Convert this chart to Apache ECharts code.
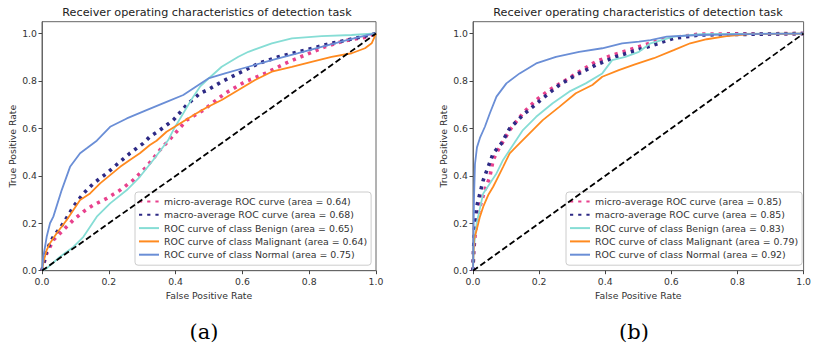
<!DOCTYPE html>
<html>
<head>
<meta charset="utf-8">
<script src="https://cdn.jsdelivr.net/npm/echarts@6/dist/echarts.min.js"></script>
<style>html,body{margin:0;padding:0;background:#fff}#c{width:814px;height:347px}</style>
</head>
<body>
<div id="c"></div>
<script>
// ---------- data ----------
const tickValues = [0, 0.2, 0.4, 0.6, 0.8, 1.0];
const diagonal = [[0, 0], [1, 1]];

// (a)
const aNames = ['micro-average ROC curve (area = 0.64)', 'macro-average ROC curve (area = 0.68)',
  'ROC curve of class Benign (area = 0.65)', 'ROC curve of class Malignant (area = 0.64)',
  'ROC curve of class Normal (area = 0.75)'];
const aMicro = [[0,0],[0.014,0.073],[0.034,0.129],[0.064,0.172],[0.094,0.214],[0.124,0.249],[0.154,0.277],[0.194,0.305],[0.234,0.34],[0.273,0.382],[0.313,0.438],[0.353,0.509],[0.393,0.57],[0.433,0.635],[0.483,0.677],[0.548,0.748],[0.608,0.797],[0.668,0.832],[0.728,0.874],[0.787,0.909],[0.847,0.944],[0.907,0.97],[0.967,0.984],[1,1]];
const aMacro = [[0,0],[0.014,0.087],[0.034,0.143],[0.064,0.2],[0.094,0.27],[0.124,0.326],[0.154,0.368],[0.194,0.411],[0.234,0.46],[0.263,0.495],[0.303,0.537],[0.323,0.565],[0.353,0.593],[0.393,0.635],[0.433,0.699],[0.473,0.748],[0.498,0.764],[0.538,0.797],[0.588,0.832],[0.648,0.874],[0.708,0.902],[0.787,0.93],[0.867,0.959],[0.937,0.98],[1,1]];
const aBenign = [[0,0],[0.014,0.01],[0.054,0.059],[0.094,0.10],[0.124,0.143],[0.164,0.228],[0.204,0.284],[0.254,0.34],[0.293,0.396],[0.333,0.467],[0.363,0.523],[0.378,0.551],[0.393,0.593],[0.423,0.664],[0.453,0.734],[0.473,0.776],[0.493,0.803],[0.538,0.86],[0.588,0.902],[0.618,0.923],[0.688,0.959],[0.748,0.98],[0.837,0.989],[0.927,0.994],[0.987,1.0],[1,1]];
const aMalignant = [[0,0],[0.005,0.04],[0.014,0.087],[0.024,0.116],[0.044,0.158],[0.074,0.214],[0.094,0.256],[0.114,0.298],[0.144,0.326],[0.174,0.368],[0.204,0.403],[0.234,0.438],[0.263,0.467],[0.293,0.495],[0.323,0.53],[0.343,0.548],[0.373,0.586],[0.413,0.621],[0.463,0.664],[0.493,0.688],[0.538,0.72],[0.588,0.762],[0.638,0.804],[0.688,0.839],[0.748,0.86],[0.807,0.881],[0.867,0.902],[0.927,0.917],[0.967,0.938],[0.987,0.959],[0.997,0.99],[1,1]];
const aNormal = [[0,0],[0.004,0.06],[0.009,0.10],[0.014,0.143],[0.024,0.2],[0.034,0.228],[0.059,0.34],[0.084,0.438],[0.114,0.495],[0.134,0.516],[0.164,0.548],[0.204,0.607],[0.254,0.642],[0.313,0.677],[0.373,0.712],[0.423,0.741],[0.498,0.811],[0.548,0.832],[0.618,0.86],[0.688,0.888],[0.767,0.917],[0.837,0.944],[0.907,0.97],[0.977,0.994],[1,1]];

// (b)
const bNames = ['micro-average ROC curve (area = 0.85)', 'macro-average ROC curve (area = 0.85)',
  'ROC curve of class Benign (area = 0.83)', 'ROC curve of class Malignant (area = 0.79)',
  'ROC curve of class Normal (area = 0.92)'];
const bMicro = [[0,0],[0.002,0.08],[0.006,0.143],[0.011,0.214],[0.021,0.27],[0.036,0.34],[0.051,0.396],[0.061,0.467],[0.076,0.509],[0.091,0.545],[0.111,0.593],[0.151,0.664],[0.191,0.72],[0.231,0.762],[0.281,0.804],[0.321,0.839],[0.371,0.881],[0.421,0.909],[0.471,0.93],[0.517,0.952],[0.587,0.98],[0.687,0.998],[1,1]];
const bMacro = [[0,0],[0.002,0.1],[0.006,0.2],[0.011,0.27],[0.031,0.382],[0.046,0.438],[0.061,0.495],[0.086,0.537],[0.111,0.6],[0.151,0.656],[0.211,0.727],[0.261,0.783],[0.311,0.825],[0.371,0.867],[0.431,0.902],[0.491,0.928],[0.547,0.952],[0.607,0.98],[0.687,0.994],[1,1]];
const bBenign = [[0,0],[0.002,0.09],[0.011,0.2],[0.031,0.326],[0.051,0.368],[0.071,0.41],[0.091,0.467],[0.111,0.509],[0.151,0.593],[0.191,0.649],[0.241,0.706],[0.291,0.755],[0.341,0.79],[0.391,0.832],[0.421,0.888],[0.461,0.902],[0.502,0.923],[0.537,0.959],[0.607,0.987],[0.687,0.998],[1,1]];
const bMalignant = [[0,0],[0.001,0.05],[0.003,0.13],[0.011,0.172],[0.021,0.228],[0.031,0.27],[0.046,0.319],[0.061,0.354],[0.076,0.396],[0.091,0.438],[0.111,0.495],[0.131,0.523],[0.171,0.579],[0.211,0.635],[0.261,0.691],[0.311,0.748],[0.361,0.783],[0.391,0.818],[0.441,0.846],[0.49,0.87],[0.547,0.896],[0.607,0.93],[0.657,0.959],[0.707,0.976],[0.767,0.989],[0.837,0.998],[1,1]];
const bNormal = [[0,0],[0.001,0.1],[0.003,0.3],[0.006,0.45],[0.012,0.52],[0.021,0.56],[0.036,0.607],[0.051,0.664],[0.071,0.734],[0.101,0.79],[0.141,0.832],[0.191,0.874],[0.251,0.902],[0.321,0.923],[0.391,0.938],[0.451,0.959],[0.502,0.966],[0.537,0.972],[0.586,0.987],[0.687,0.994],[0.837,0.998],[1,1]];

// ---------- styling ----------
const SANS = 'DejaVu Sans';
const colors = ['#E8418D', '#2E2A85', '#86DDD5', '#FF8A1F', '#6A8ED6'];
const txt = '#333';
const spine = '#666';

function xAxis(gi) {
  return {
    type: 'value', gridIndex: gi, min: 0, max: 1,
    name: 'False Positive Rate', nameLocation: 'middle', nameGap: 18,
    nameTextStyle: { fontFamily: SANS, fontSize: 9.3, color: txt },
    axisLine: { show: true, lineStyle: { color: spine, width: 1 } },
    axisTick: { show: true, length: 3.5, customValues: tickValues, lineStyle: { color: '#444' } },
    axisLabel: { customValues: tickValues, margin: 6, fontFamily: SANS, fontSize: 9.3, color: txt,
      formatter: v => v.toFixed(1) },
    splitLine: { show: false }
  };
}
function yAxis(gi) {
  return {
    type: 'value', gridIndex: gi, min: 0, max: 1.05,
    name: 'True Positive Rate', nameLocation: 'middle', nameGap: 25, nameRotate: 90,
    nameTextStyle: { fontFamily: SANS, fontSize: 9.3, color: txt },
    axisLine: { show: true, lineStyle: { color: spine, width: 1 } },
    axisTick: { show: true, length: 3.5, customValues: tickValues, lineStyle: { color: '#444' } },
    axisLabel: { customValues: tickValues, margin: 5, fontFamily: SANS, fontSize: 9.3, color: txt,
      formatter: v => v.toFixed(1) },
    splitLine: { show: false }
  };
}
function curves(gi, names, sets) {
  const out = sets.map((d, i) => ({
    type: 'line', name: names[i], xAxisIndex: gi, yAxisIndex: gi, data: d,
    showSymbol: false, symbol: 'none', silent: true, animation: false,
    lineStyle: i < 2 ? { color: colors[i], width: 3.6, type: [3.2, 5], cap: 'butt' }
                     : { color: colors[i], width: 1.8 },
    itemStyle: { color: colors[i] },
    z: 2 + i
  }));
  out.push({
    type: 'line', name: 'chance' + gi, xAxisIndex: gi, yAxisIndex: gi, data: diagonal,
    showSymbol: false, symbol: 'none', silent: true, animation: false,
    lineStyle: { color: '#000', width: 1.8, type: [6, 3] }, z: 8
  });
  return out;
}
function legend(left, names) {
  return {
    left: left, top: 192, orient: 'vertical', data: names,
    itemWidth: 20, itemHeight: 10, itemGap: 4.3, padding: [5, 4, 6, 3],
    backgroundColor: 'rgba(255,255,255,0.8)', borderColor: '#ccc', borderWidth: 1, borderRadius: 3,
    itemStyle: { opacity: 0 },
    textStyle: { fontFamily: SANS, fontSize: 9.4, color: txt },
    selectedMode: false
  };
}

const chart = echarts.init(document.getElementById('c'), null, { renderer: 'svg' });
chart.setOption({
  animation: false,
  backgroundColor: '#fff',
  grid: [
    { left: 42, top: 21.7, width: 334, height: 249, show: true, borderColor: spine, borderWidth: 1, backgroundColor: 'transparent' },
    { left: 473, top: 21.7, width: 333, height: 249, show: true, borderColor: spine, borderWidth: 1, backgroundColor: 'transparent' }
  ],
  xAxis: [xAxis(0), xAxis(1)],
  yAxis: [yAxis(0), yAxis(1)],
  legend: [legend(135, aNames), legend(566, bNames)],
  series: [
    ...curves(0, aNames, [aMicro, aMacro, aBenign, aMalignant, aNormal]),
    ...curves(1, bNames, [bMicro, bMacro, bBenign, bMalignant, bNormal])
  ],
  graphic: [
    { type: 'text', x: 207, y: 12, style: { text: 'Receiver operating characteristics of detection task', fontFamily: SANS, fontSize: 11.2, fill: '#222', textAlign: 'center', textVerticalAlign: 'middle' } },
    { type: 'text', x: 638, y: 12, style: { text: 'Receiver operating characteristics of detection task', fontFamily: SANS, fontSize: 11.2, fill: '#222', textAlign: 'center', textVerticalAlign: 'middle' } },
    { type: 'text', x: 204, y: 332, style: { text: '(a)', fontFamily: 'DejaVu Serif', fontSize: 21, fill: '#000', textAlign: 'center', textVerticalAlign: 'middle' } },
    { type: 'text', x: 634, y: 332, style: { text: '(b)', fontFamily: 'DejaVu Serif', fontSize: 21, fill: '#000', textAlign: 'center', textVerticalAlign: 'middle' } }
  ]
});
</script>
</body>
</html>
